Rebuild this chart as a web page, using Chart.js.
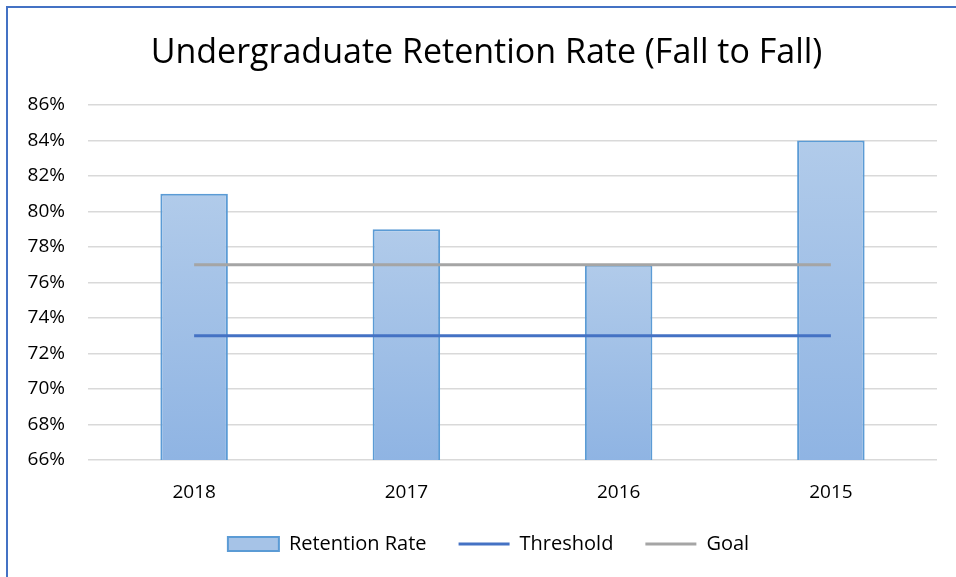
<!DOCTYPE html>
<html>
<head>
<meta charset="utf-8">
<script src="https://cdn.jsdelivr.net/npm/chart.js@4.4.1/dist/chart.umd.min.js"></script>
<style>
  html, body { margin: 0; padding: 0; background: #fff; }
  #wrap { position: relative; width: 956px; height: 577px; overflow: hidden; }
  #frame {
    position: absolute; left: 6px; top: 6px; width: 1200px; height: 800px;
    border-left: 2px solid #4472C4; border-top: 2px solid #4472C4;
    pointer-events: none;
  }
</style>
</head>
<body>
<div id="wrap">
  <canvas id="chart" width="956" height="577"></canvas>
  <div id="frame"></div>
</div>
<script>
const years = ["2018", "2017", "2016", "2015"];
const retention = [81, 79, 77, 84];
const threshold = [73, 73, 73, 73];
const goal = [77, 77, 77, 77];
const yTicks = [66, 68, 70, 72, 74, 76, 78, 80, 82, 84, 86];

const FONT = "'Open Sans'";

function barFill(ctx) {
  const chart = ctx.chart;
  const area = chart.chartArea;
  if (!area || ctx.dataIndex === undefined) return "#A4C2E6";
  const top = chart.scales.y.getPixelForValue(retention[ctx.dataIndex]);
  const g = chart.ctx.createLinearGradient(0, top, 0, area.bottom);
  g.addColorStop(0, "#B1CBEA");
  g.addColorStop(1, "#8FB4E3");
  return g;
}

// title and legend sit a bit right of the plot centre in the original
const shiftHeader = {
  id: "shiftHeader",
  afterLayout(chart) {
    if (chart.titleBlock) { chart.titleBlock.left += 18; chart.titleBlock.right += 18; }
    if (chart.legend) { chart.legend.left += 20; chart.legend.right += 20; }
  }
};

window.onload = () => {
  const ctx = document.getElementById("chart").getContext("2d");
  new Chart(ctx, {
    type: "bar",
    data: {
      labels: years,
      datasets: [
        {
          label: "Retention Rate",
          data: retention,
          backgroundColor: barFill,
          borderColor: "#5B9BD5",
          borderWidth: 2,
          barPercentage: 0.318,
          categoryPercentage: 1,
          pointStyle: "rect",
          order: 3
        },
        {
          type: "line",
          label: "Threshold",
          data: threshold,
          borderColor: "#4472C4",
          backgroundColor: "#4472C4",
          borderWidth: 3,
          pointRadius: 0,
          pointStyle: "line",
          fill: false,
          order: 2
        },
        {
          type: "line",
          label: "Goal",
          data: goal,
          borderColor: "#A5A5A5",
          backgroundColor: "#A5A5A5",
          borderWidth: 3,
          pointRadius: 0,
          pointStyle: "line",
          fill: false,
          order: 1
        }
      ]
    },
    plugins: [shiftHeader],
    options: {
      responsive: false,
      animation: false,
      layout: { padding: { left: 0, right: 19, top: 0, bottom: 13 } },
      scales: {
        x: {
          offset: true,
          grid: { display: false },
          border: { display: false },
          ticks: { color: "#000", font: { family: FONT, size: 19 }, padding: 13 },
          afterFit: (scale) => { scale.height = 42; }
        },
        y: {
          min: 66,
          max: 86,
          afterBuildTicks: (scale) => { scale.ticks = yTicks.map(v => ({ value: v })); },
          grid: { color: "#D9D9D9", lineWidth: 1.5, drawTicks: false },
          border: { display: false },
          ticks: {
            color: "#000",
            font: { family: FONT, size: 19 },
            padding: 23,
            callback: (v) => v + "%"
          },
          afterFit: (scale) => { scale.width = 88; }
        }
      },
      plugins: {
        tooltip: { enabled: false },
        title: {
          display: true,
          text: "Undergraduate Retention Rate (Fall to Fall)",
          color: "#000",
          font: { family: FONT, size: 34, weight: "normal" },
          padding: { top: 33, bottom: 31.2 }
        },
        legend: {
          position: "bottom",
          labels: {
            color: "#000",
            font: { family: FONT, size: 20 },
            usePointStyle: true,
            pointStyleWidth: 51,
            boxHeight: 14,
            padding: 32,
            sort: (a, b) => a.datasetIndex - b.datasetIndex,
            generateLabels: (chart) => {
              const items = Chart.defaults.plugins.legend.labels.generateLabels(chart);
              items.forEach(it => {
                if (it.datasetIndex === 0) it.fillStyle = "#A6C3E7";
              });
              return items;
            }
          }
        }
      }
    }
  });
};
</script>
</body>
</html>
